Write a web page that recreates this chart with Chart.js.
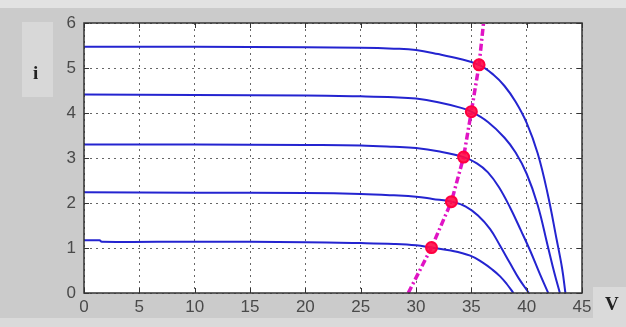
<!DOCTYPE html>
<html>
<head>
<meta charset="utf-8">
<script src="https://cdn.jsdelivr.net/npm/chart.js@4"></script>
<style>
  html, body { margin: 0; padding: 0; }
  body { width: 626px; height: 327px; background: #cbcbcb; position: relative; overflow: hidden; }
  #topStrip { position: absolute; left: 0; top: 0; width: 626px; height: 8px; background: #e2e2e2; }
  #bottomStrip { position: absolute; left: 0; top: 318px; width: 626px; height: 9px; background: #dadada; }
  #iBox { position: absolute; left: 22px; top: 22px; width: 31px; height: 75px; background: #d8d8d8; }
  #vBox { position: absolute; left: 593px; top: 287px; width: 33px; height: 31px; background: #dadada; }
  .axLabel { position: absolute; font-family: "Liberation Serif", "DejaVu Serif", serif; font-weight: bold; font-size: 19px; color: #222; }
  #canvasWrap { position: absolute; left: 0; top: 0; width: 626px; height: 327px; }
</style>
</head>
<body>
<div id="topStrip"></div>
<div id="bottomStrip"></div>
<div id="iBox"></div>
<div id="vBox"></div>
<div id="canvasWrap"><canvas id="ivChart" width="626" height="327"></canvas></div>
<div class="axLabel" style="left:33px; top:62px;">i</div>
<div class="axLabel" style="left:605px; top:293px;">V</div>
<script>
// I-V curves, one per irradiance level (V, i)
const curve1 = [[0,5.47],[10,5.47],[20,5.46],[25,5.45],[28,5.43],[30,5.4],[32,5.31],[34,5.2],[35.7,5.07],[37,4.85],[38,4.6],[39,4.25],[40,3.78],[41,3.1],[41.9,2.2],[42.7,1.2],[43.2,0.55],[43.5,0]];
const curve2 = [[0,4.41],[10,4.4],[20,4.39],[25,4.37],[28,4.35],[30,4.32],[32,4.24],[34,4.12],[35,4.03],[36.5,3.8],[38,3.45],[39,3.12],[40,2.65],[41,1.95],[41.9,1.05],[42.5,0.45],[43,0]];
const curve3 = [[0,3.3],[10,3.3],[20,3.29],[25,3.28],[28,3.25],[30,3.22],[32,3.15],[34.3,3.02],[35.5,2.88],[36.5,2.68],[37.5,2.35],[38.5,1.9],[39.5,1.38],[40.3,0.95],[41.2,0.42],[41.95,0]];
const curve4 = [[0,2.24],[10,2.23],[20,2.22],[25,2.2],[28,2.17],[30,2.14],[31.5,2.09],[33.2,2.03],[34.5,1.92],[35.6,1.72],[36.7,1.42],[37.6,1.05],[38.5,0.66],[39.3,0.32],[40.2,0]];
const curve5 = [[0,1.17],[1.4,1.17],[1.6,1.14],[10,1.14],[20,1.13],[25,1.11],[28,1.09],[30,1.06],[31.4,1.01],[33,0.95],[34.9,0.83],[36,0.68],[36.9,0.52],[37.6,0.37],[38.2,0.2],[38.8,0]];

// maximum power points and the tracking line through them
const mppPoints = [[31.4,1.01],[33.2,2.03],[34.3,3.02],[35.0,4.03],[35.7,5.07]];
const mppLine = [[29.3,0],[31.4,1.01],[33.2,2.03],[34.3,3.02],[35.0,4.03],[35.7,5.07],[36.1,6]];

const xTicks = [0, 5, 10, 15, 20, 25, 30, 35, 40, 45];
const yTicks = [0, 1, 2, 3, 4, 5, 6];

const toXY = arr => arr.map(p => ({ x: p[0], y: p[1] }));

const curveStyle = {
    borderColor: '#2424d0',
    borderWidth: 2,
    pointRadius: 0,
    showLine: true,
    fill: false,
    tension: 0.4,
};

// white plot background, black frame and inward tick marks like the original
const framePlugin = {
    id: 'frame',
    beforeDraw(chart) {
        const { ctx, chartArea: a } = chart;
        ctx.save();
        ctx.fillStyle = '#ffffff';
        ctx.fillRect(a.left, a.top, a.right - a.left, a.bottom - a.top);
        ctx.restore();
    },
    afterDraw(chart) {
        const { ctx, chartArea: a, scales } = chart;
        ctx.save();
        ctx.strokeStyle = '#333';
        ctx.lineWidth = 1.5;
        ctx.strokeRect(a.left, a.top, a.right - a.left, a.bottom - a.top);
        ctx.lineWidth = 1;
        ctx.beginPath();
        xTicks.forEach(v => {
            const px = Math.round(scales.x.getPixelForValue(v)) + 0.5;
            ctx.moveTo(px, a.bottom); ctx.lineTo(px, a.bottom - 5);
            ctx.moveTo(px, a.top); ctx.lineTo(px, a.top + 5);
        });
        yTicks.forEach(v => {
            const py = Math.round(scales.y.getPixelForValue(v)) + 0.5;
            ctx.moveTo(a.left, py); ctx.lineTo(a.left + 5, py);
            ctx.moveTo(a.right, py); ctx.lineTo(a.right - 5, py);
        });
        ctx.stroke();
        ctx.restore();
    }
};

const tickFont = { family: '"Liberation Sans", Arial, sans-serif', size: 17 };

new Chart(document.getElementById('ivChart').getContext('2d'), {
    type: 'scatter',
    data: {
        datasets: [
            { label: 'MPP', data: toXY(mppPoints), showLine: false, pointRadius: 5.5, pointBackgroundColor: 'rgba(255,10,70,0.9)', pointBorderColor: '#ff0040', pointBorderWidth: 2, order: 0 },
            { label: 'MPP track', data: toXY(mppLine), showLine: true, borderColor: '#e014c4', borderWidth: 3.5, borderDash: [7, 3, 2, 3], pointRadius: 0, fill: false, order: 1 },
            Object.assign({ label: 'G1', data: toXY(curve1), order: 2 }, curveStyle),
            Object.assign({ label: 'G2', data: toXY(curve2), order: 2 }, curveStyle),
            Object.assign({ label: 'G3', data: toXY(curve3), order: 2 }, curveStyle),
            Object.assign({ label: 'G4', data: toXY(curve4), order: 2 }, curveStyle),
            Object.assign({ label: 'G5', data: toXY(curve5), order: 2 }, curveStyle),
        ],
    },
    options: {
        responsive: false,
        animation: false,
        events: [],
        layout: { padding: { left: 0, right: 44, top: 23, bottom: 0 } },
        plugins: { legend: { display: false }, tooltip: { enabled: false } },
        scales: {
            x: {
                type: 'linear',
                min: 0,
                max: 45,
                afterFit: s => { s.height = 34; },
                afterBuildTicks: s => { s.ticks = xTicks.map(v => ({ value: v })); },
                ticks: { color: '#4a4a4a', font: tickFont, padding: 4, maxRotation: 0 },
                grid: { color: '#666', lineWidth: 1, drawTicks: false },
                border: { display: false, dash: [2, 4] },
            },
            y: {
                type: 'linear',
                min: 0,
                max: 6,
                afterFit: s => { s.width = 84; },
                afterBuildTicks: s => { s.ticks = yTicks.map(v => ({ value: v })); },
                ticks: { color: '#4a4a4a', font: tickFont, padding: 8 },
                grid: { color: '#666', lineWidth: 1, drawTicks: false },
                border: { display: false, dash: [2, 4] },
            },
        },
    },
    plugins: [framePlugin],
});
</script>
</body>
</html>
